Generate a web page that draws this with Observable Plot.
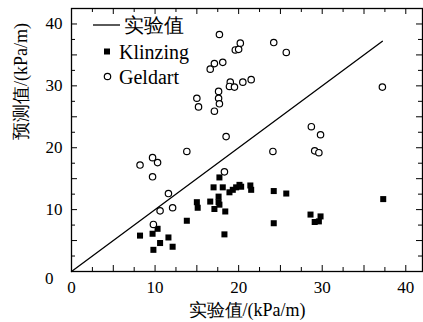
<!DOCTYPE html>
<html><head><meta charset="utf-8">
<script src="https://cdn.jsdelivr.net/npm/d3@7"></script>
<script src="https://cdn.jsdelivr.net/npm/@observablehq/plot@0.6"></script>
<style>body{margin:0;background:#fff}</style>
</head><body><div id="chart"></div>
<script>
// Klinzing series (experimental, predicted)
const klinzingX = [8.2, 9.7, 10.3, 10.6, 9.8, 11.6, 12.1, 13.8, 15.0, 15.1, 16.6, 17.1, 17.6, 17.6, 17.7, 17.7, 17.0, 18.1, 18.4, 18.3, 18.9, 19.3, 19.7, 20.1, 20.3, 21.4, 21.5, 24.2, 25.7, 24.2, 28.6, 29.8, 29.1, 29.6, 37.3];
const klinzingY = [5.8, 6.1, 6.9, 4.6, 3.5, 5.5, 4.0, 8.2, 11.2, 10.3, 11.3, 10.1, 12.1, 11.2, 10.8, 15.2, 13.6, 13.6, 9.7, 6.0, 12.8, 13.2, 13.6, 14.0, 13.7, 13.9, 13.2, 13.0, 12.6, 7.8, 9.2, 8.9, 8.0, 8.1, 11.7];
// Geldart series
const geldartX = [8.2, 9.7, 10.3, 9.7, 9.8, 10.6, 12.1, 11.6, 13.8, 15.0, 15.2, 16.6, 17.1, 18.1, 17.1, 17.6, 17.6, 17.7, 17.7, 18.5, 18.3, 19.0, 18.9, 19.5, 19.6, 20.0, 20.2, 20.5, 21.5, 24.2, 25.7, 24.1, 28.7, 29.8, 29.1, 29.6, 37.2];
const geldartY = [17.2, 18.4, 17.6, 15.3, 7.6, 9.8, 10.3, 12.6, 19.4, 28.0, 26.6, 32.7, 33.6, 33.8, 25.9, 29.1, 28.0, 27.1, 38.3, 21.8, 16.1, 30.6, 29.9, 29.8, 35.8, 35.9, 36.9, 30.6, 31.0, 37.0, 35.4, 19.4, 23.4, 22.1, 19.5, 19.2, 29.8];
// parity line (experimental value)
const parityX = [0, 37.2];
const parityY = [0, 37.2];
// axis ticks & labels
const xLabelTicks = [0, 10, 20, 30, 40];
const yLabelTicks = [10, 20, 30, 40];
const majorTicks = [0, 5, 10, 15, 20, 25, 30, 35, 40];
const minorTicks = [2.5, 7.5, 12.5, 17.5, 22.5, 27.5, 32.5, 37.5];
const seriesNames = ["实验值", "Klinzing", "Geldart"];
const xTitle = "实验值/(kPa/m)";
const yTitle = "预测值/(kPa/m)";

const W = 423, H = 322, mL = 71, mR = 1, mT = 8, mB = 51;
const innerH = H - mT - mB, innerW = W - mL - mR;
const font = "Liberation Serif, DejaVu Serif, serif";

const kData = klinzingX.map((x, i) => ({x, y: klinzingY[i]}));
const gData = geldartX.map((x, i) => ({x, y: geldartY[i]}));
const lData = parityX.map((x, i) => ({x, y: parityY[i]}));

const svg = Plot.plot({
  width: W, height: H,
  marginLeft: mL, marginRight: mR, marginTop: mT, marginBottom: mB,
  style: {fontFamily: font, fontSize: "17px", background: "white", color: "black"},
  x: {domain: [0, 42]},
  y: {domain: [0, 42.5]},
  marks: [
    Plot.line(lData, {x: "x", y: "y", stroke: "black", strokeWidth: 1.3}),
    Plot.dot(kData, {x: "x", y: "y", symbol: "square", r: 3.4, fill: "black", stroke: "none"}),
    Plot.dot(gData, {x: "x", y: "y", symbol: "circle", r: 3.2, fill: "white", stroke: "black", strokeWidth: 1.2}),
    // inward ticks on all four sides
    Plot.tickX(majorTicks, {x: d => d, insetTop: innerH - 6, stroke: "black"}),
    Plot.tickX(minorTicks, {x: d => d, insetTop: innerH - 4, stroke: "black"}),
    Plot.tickX(majorTicks, {x: d => d, insetBottom: innerH - 6, stroke: "black"}),
    Plot.tickX(minorTicks, {x: d => d, insetBottom: innerH - 4, stroke: "black"}),
    Plot.tickY(majorTicks, {y: d => d, insetRight: innerW - 6, stroke: "black"}),
    Plot.tickY(minorTicks, {y: d => d, insetRight: innerW - 4, stroke: "black"}),
    Plot.tickY(majorTicks, {y: d => d, insetLeft: innerW - 6, stroke: "black"}),
    Plot.tickY(minorTicks, {y: d => d, insetLeft: innerW - 4, stroke: "black"}),
    Plot.axisX({ticks: xLabelTicks, tickSize: 0, tickPadding: 9, label: null, fontSize: 17, fill: "black", fontFamily: font}),
    Plot.axisY({ticks: yLabelTicks, tickSize: 0, tickPadding: 9, label: null, fontSize: 17, fill: "black", fontFamily: font}),
    Plot.text([0], {x: d => d, y: d => d, text: d => String(d), textAnchor: "end", dx: -18, dy: 7, fontSize: 17, fill: "black", fontFamily: font}),
    Plot.text([xTitle], {frameAnchor: "bottom", lineAnchor: "middle", text: d => d, dy: 39, fontSize: 18, fill: "black", fontFamily: font}),
    Plot.text([yTitle], {frameAnchor: "left", lineAnchor: "middle", text: d => d, dx: -50, rotate: -90, fontSize: 18, fill: "black", fontFamily: font}),
    Plot.frame({stroke: "black", strokeWidth: 1.3})
  ]
});

// legend (top-left inside the frame)
const lg = d3.select(svg).append("g")
  .attr("font-family", font).attr("font-size", 20).attr("fill", "black").attr("text-anchor", "start");
const rows = [25, 51.5, 76.5];
lg.append("line").attr("x1", 93).attr("x2", 120).attr("y1", rows[0]).attr("y2", rows[0]).attr("stroke", "black").attr("stroke-width", 1.3);
lg.append("rect").attr("x", 104).attr("y", rows[1] - 3).attr("width", 6).attr("height", 6).attr("fill", "black");
lg.append("circle").attr("cx", 107.5).attr("cy", rows[2]).attr("r", 3.2).attr("fill", "white").attr("stroke", "black").attr("stroke-width", 1.2);
seriesNames.forEach((name, i) => {
  lg.append("text").attr("x", i === 0 ? 124 : 119).attr("y", rows[i]).attr("dy", "0.35em")
    .attr("font-family", font).text(name);
});

document.getElementById("chart").appendChild(svg);
</script>
</body></html>
